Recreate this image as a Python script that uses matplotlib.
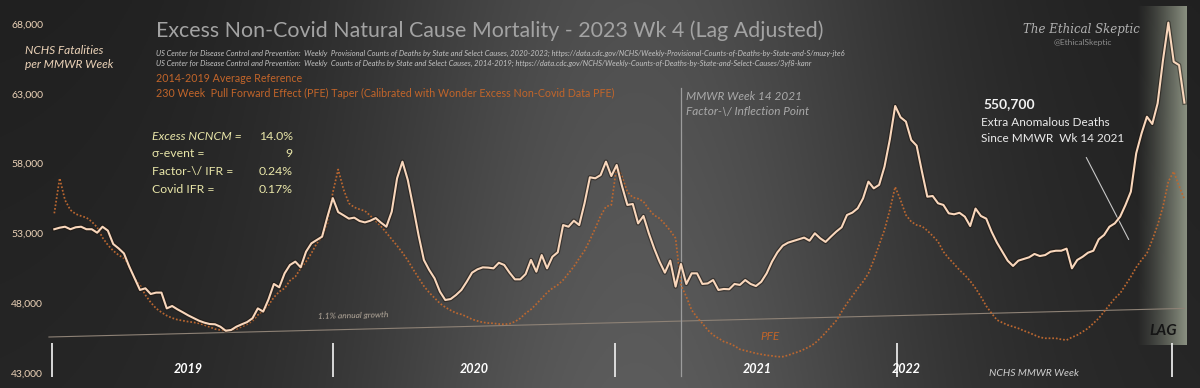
import numpy as np
import matplotlib
matplotlib.use("Agg")
import matplotlib.pyplot as plt
import matplotlib.patheffects as pe

plt.rcParams["font.family"] = ["Lato", "DejaVu Sans"]

# weekly non-covid natural cause deaths (thousands), 2019 wk1 .. 2023 wk4
ncncm = [53.37, 53.48, 53.55, 53.37, 53.51, 53.55, 53.37, 53.37, 53.12, 53.55,
         53.27, 52.31, 52.00, 51.64, 50.69, 49.85, 49.02, 49.14, 48.73, 48.83,
         48.83, 47.70, 47.87, 47.63, 47.42, 47.20, 47.01, 46.82, 46.68, 46.58,
         46.56, 46.39, 46.10, 46.15, 46.39, 46.56, 46.72, 46.99, 47.70, 47.47,
         48.35, 49.45, 49.21, 50.21, 50.81, 51.05, 50.64, 51.76, 52.36, 52.60,
         52.84, 54.27, 55.60, 54.60, 54.37, 54.13, 54.20, 53.96, 53.86, 53.98,
         54.17, 53.84, 53.55, 54.63, 57.02, 58.21, 56.90, 54.99, 52.96, 51.17,
         50.45, 49.85, 48.90, 48.30, 48.37, 48.66, 49.02, 49.61, 50.26, 50.50,
         50.64, 50.62, 50.57, 50.97, 50.81, 50.26, 49.78, 49.78, 50.16, 51.17,
         50.33, 51.52, 50.57, 51.40, 51.72, 53.67, 53.55, 53.98, 53.67, 55.23,
         57.09, 57.02, 57.25, 58.21, 57.18, 57.97, 56.45, 55.11, 55.18, 53.79,
         54.32, 53.08, 52.00, 51.05, 50.26, 51.12, 49.26, 50.88, 49.45, 50.21,
         50.21, 49.45, 49.49, 49.73, 49.02, 49.09, 49.07, 49.45, 49.38, 49.73,
         49.45, 49.30, 49.61, 50.21, 51.05, 51.71, 52.19, 52.41, 52.53, 52.65,
         52.77, 52.55, 53.08, 52.72, 52.46, 52.84, 53.20, 53.51, 54.39, 54.56,
         54.87, 55.58, 56.78, 56.30, 56.55, 57.85, 59.80, 62.20, 61.39, 61.08,
         59.76, 59.36, 57.49, 55.70, 55.75, 55.23, 55.11, 54.51, 54.44, 54.55,
         54.27, 53.60, 54.85, 54.32, 54.13, 53.19, 52.41, 51.76, 51.12, 50.74,
         51.12, 51.24, 51.36, 51.60, 51.45, 51.52, 51.76, 51.83, 51.83, 51.98,
         50.57, 51.17, 51.40, 51.69, 51.83, 52.65, 52.96, 53.55, 53.79, 54.27,
         55.11, 56.06, 58.81, 60.24, 61.43, 60.91, 62.39, 65.49, 68.17, 65.37,
         65.13, 62.44]

# 2014-2019 average reference, with PFE taper from MMWR wk 14 2021
reference = [54.51, 57.02, 55.46, 54.75, 54.46, 54.32, 54.20, 53.91, 53.51, 52.77,
             52.24, 51.83, 51.52, 51.29, 50.69, 49.85, 49.38, 48.66, 48.13, 47.70,
             47.42, 47.18, 47.01, 46.89, 46.82, 46.75, 46.70, 46.63, 46.51, 46.37,
             46.22, 46.15, 46.10, 46.15, 46.22, 46.39, 46.56, 46.80, 47.23, 47.54,
             47.94, 48.49, 48.90, 49.14, 49.69, 49.97, 50.57, 51.05, 51.64, 52.36,
             52.84, 53.79, 56.00, 57.65, 56.23, 55.23, 54.94, 54.80, 54.68, 54.34,
             53.96, 53.58, 53.12, 52.65, 52.19, 51.69, 51.14, 50.50, 49.90, 49.30,
             48.83, 48.44, 48.06, 47.78, 47.56, 47.37, 47.27, 47.11, 46.92, 46.80,
             46.70, 46.65, 46.63, 46.58, 46.56, 46.60, 46.75, 46.99, 47.35, 47.63,
             48.01, 48.42, 48.83, 49.14, 49.38, 49.73, 50.21, 50.69, 51.29, 51.83,
             52.60, 53.43, 54.32, 54.99, 55.11, 57.90, 57.14, 56.05, 55.65, 55.56,
             55.35, 54.80, 54.37, 54.15, 53.74, 53.27, 52.72, 49.38, 48.54, 47.58,
             47.06, 46.63, 46.15, 45.79, 45.56, 45.32, 45.20, 45.01, 44.77, 44.67,
             44.58, 44.48, 44.41, 44.34, 44.30, 44.24, 44.24, 44.34, 44.48, 44.60,
             44.77, 44.96, 45.20, 45.56, 45.96, 46.39, 46.82, 47.46, 48.06, 48.59,
             49.14, 49.61, 50.21, 51.17, 52.24, 53.32, 54.75, 56.40, 55.46, 54.39,
             53.91, 53.67, 53.58, 53.27, 52.89, 52.48, 51.76, 51.29, 50.88, 50.45,
             50.09, 49.66, 49.14, 48.54, 47.87, 47.35, 46.87, 46.68, 46.51, 46.39,
             46.27, 46.10, 45.96, 45.79, 45.63, 45.56, 45.56, 45.56, 45.48, 45.43,
             45.63, 45.79, 46.03, 46.27, 46.63, 46.99, 47.46, 47.94, 48.42, 48.78,
             49.38, 49.97, 50.64, 51.17, 51.64, 52.60, 53.67, 54.99, 56.78, 57.50,
             56.47, 55.51]

trend_weeks = [-1, 211]
trend_vals = [45.65, 47.70]          # 1.1% annual growth baseline
year_marks = [-0.5, 52, 104.7, 157.3, 208.7]
years = ["2019", "2020", "2021", "2022"]
year_px = [188, 474, 757, 906]
inflection_week = 117                # MMWR week 14 2021
lag_weeks = [202.0, 211.4]
ytick_vals = [43, 48, 53, 58, 63, 68]
ytick_labels = ["43,000", "48,000", "53,000", "58,000", "63,000", "68,000"]

W, H = 1200, 388
fig = plt.figure(figsize=(12, 3.88), dpi=100)


def fx(px):
    return px / W


def fy(py):
    return 1 - py / H


# background gradient
ax_bg = fig.add_axes([0, 0, 1, 1])
ax_bg.axis("off")
gx, gy = np.meshgrid(np.linspace(0, 1, 600), np.linspace(0, 1, 200))
lum = 0.145 + 0.215 * np.exp(-((gx - 0.53) / 0.24) ** 2)
lum = lum * (0.86 + 0.14 * gy)
ax_bg.imshow(np.dstack([lum, lum, lum]), aspect="auto", extent=[0, 1, 0, 1], origin="upper")

ax = fig.add_axes([0, 0, 1, 1])
ax.axis("off")
ppw = 5.356
ax.set_xlim(-54.3 / ppw, (W - 54.3) / ppw)
ax.set_ylim(43 - (H - 374) / 13.96, 43 + 374 / 13.96)

# LAG box
ramp = np.linspace(0, 1, 200) ** 1.3
lag_img = np.zeros((2, 200, 4))
lag_img[..., 0] = 0.60
lag_img[..., 1] = 0.63
lag_img[..., 2] = 0.56
lag_img[..., 3] = ramp * 0.88
ax.imshow(lag_img, aspect="auto", extent=[lag_weeks[0], lag_weeks[1], 45.1, 69.35], zorder=1)

weeks = np.arange(len(ncncm))
ax.plot(trend_weeks, trend_vals, color="#8e8276", lw=0.8, zorder=2)
ax.plot(weeks, reference, color="#bb6730", lw=1.25, ls=(0, (1, 1.1)), zorder=3)
ax.plot(weeks, ncncm, color="#f9d7bc", lw=1.5, zorder=4,
        path_effects=[pe.withStroke(linewidth=3.2, foreground="#1c140e", alpha=0.5)])

ax.axvline(inflection_week, ymin=fy(376), ymax=fy(88), color="#9c9c9c", lw=0.9, zorder=2)
ax.vlines(year_marks, 42.8, 45.2, color="#e6e6e6", lw=1.3, zorder=3)

for v, lab in zip(ytick_vals, ytick_labels):
    ax.text(fx(11), v, lab, transform=ax.get_yaxis_transform(), fontsize=7.5,
            color="#ecd3b8", ha="left", va="center")

# titles and notes
fig.text(fx(156), fy(31), "Excess Non-Covid Natural Cause Mortality - 2023 Wk 4 (Lag Adjusted)",
         fontsize=15.4, color="#a3a3a3", va="center")
fig.text(fx(156), fy(53), "US Center for Disease Control and Prevention:  Weekly  Provisional Counts of Deaths by State and Select Causes, 2020-2023; https://data.cdc.gov/NCHS/Weekly-Provisional-Counts-of-Deaths-by-State-and-S/muzy-jte6",
         fontsize=5.45, style="italic", color="#c4c4c4", va="center")
fig.text(fx(156), fy(63), "US Center for Disease Control and Prevention:  Weekly  Counts of Deaths by State and Select Causes, 2014-2019; https://data.cdc.gov/NCHS/Weekly-Counts-of-Deaths-by-State-and-Select-Causes/3yf8-kanr",
         fontsize=5.45, style="italic", color="#c4c4c4", va="center")
fig.text(fx(156), fy(78), "2014-2019 Average Reference", fontsize=7.7, color="#c2652a", va="center")
fig.text(fx(156), fy(93), "230 Week  Pull Forward Effect (PFE) Taper (Calibrated with Wonder Excess Non-Covid Data PFE)",
         fontsize=7.7, color="#c2652a", va="center")
fig.text(fx(25), fy(50), "NCHS Fatalities", fontsize=8.6, style="italic", color="#ecd3b8", va="center")
fig.text(fx(25), fy(64), "per MMWR Week", fontsize=8.6, style="italic", color="#ecd3b8", va="center")

stat_names = ["Excess NCNCM =", "σ-event =", "Factor-\\/ IFR =", "Covid IFR ="]
stat_vals = ["14.0%", "9", "0.24%", "0.17%"]
for k, (n, s) in enumerate(zip(stat_names, stat_vals)):
    yy = fy([136.5, 154, 171.5, 189][k])
    fig.text(fx(152), yy, n, fontsize=8.8, color="#e8e5a8", va="center",
             style="italic" if k == 0 else "normal")
    fig.text(fx(293), yy, s, fontsize=8.8, color="#e8e5a8", va="center", ha="right")

fig.text(fx(686), fy(97), "MMWR Week 14 2021", fontsize=8.5, style="italic", color="#a9a9a9", va="center")
fig.text(fx(686), fy(112), "Factor-\\/ Inflection Point", fontsize=8.5, style="italic", color="#a9a9a9", va="center")

fig.text(fx(1081), fy(29), "The Ethical Skeptic", family="DejaVu Serif", fontsize=8.5, style="italic",
         color="#b3b3b3", ha="center", va="center")
fig.text(fx(1083), fy(43), "@EthicalSkeptic", fontsize=6, color="#8c8c8c", ha="center", va="center")

fig.text(fx(983), fy(104), "550,700", fontsize=10, weight="bold", color="#f2f2f2", va="center")
fig.text(fx(981), fy(122), "Extra Anomalous Deaths", fontsize=8.5, color="#ececec", va="center")
fig.text(fx(981), fy(138), "Since MMWR  Wk 14 2021", fontsize=8.5, color="#ececec", va="center")
ax.annotate("", xy=(fx(1130), fy(242)), xytext=(fx(1085), fy(155)), xycoords="figure fraction",
            textcoords="figure fraction", arrowprops=dict(arrowstyle="-", color="#c8c8c8", lw=0.8))

fig.text(fx(318), fy(316), "1.1% annual growth", fontsize=6, style="italic", color="#b5aa9c",
         va="center", rotation=1.5)
fig.text(fx(760), fy(336), "PFE", fontsize=8.5, style="italic", color="#c2652a", va="center")

for yr, xp in zip(years, year_px):
    fig.text(fx(xp), fy(369), yr, fontsize=9, weight="bold", style="italic", color="white",
             ha="center", va="center")
fig.text(fx(1034), fy(373), "NCHS MMWR Week", fontsize=7.5, style="italic", color="#cfcfcf",
         ha="center", va="center")
fig.text(fx(1163), fy(331), "LAG", fontsize=11, weight="bold", style="italic", color="#151515",
         ha="center", va="center")

fig.savefig("out.png", dpi=100)
